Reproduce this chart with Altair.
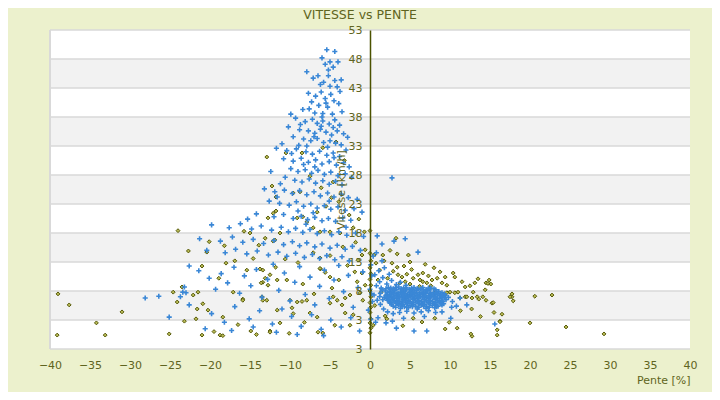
import altair as alt
import pandas as pd

# ---------------- data ----------------
blue_cone_top = [(-5.4,49.6),(-4.4,49.3),(-6.0,48.2),(-5.0,47.5),(-5.6,47.1),(-4.0,47.5),(-5.2,46.1),(-7.9,45.8),(-7.1,44.7),(-6.5,45.1),(-5.2,45.1),(-4.4,44.3),(-5.0,43.3),(-4.1,43.2),(-3.75,42.4),(-7.7,42.1),(-6.8,41.6),(-6.1,42.3),(-5.6,41.2),(-4.9,41.9),(-4.5,40.8),(-3.9,40.3),(-7.3,40.6),(-6.4,40.0),(-5.3,39.7),(-8.4,39.3),(-7.6,39.4),(-6.9,38.7),(-5.9,38.6),(-4.7,38.5),(-3.5,38.9),(-5.5,40.4),(-6.2,43.6),(-4.6,46.6),(-5.8,44.0),(-3.6,44.4)]
blue_cone_mid = [(-9.3,37.8),(-8.1,37.2),(-7.2,37.6),(-6.6,36.9),(-5.9,37.3),(-5.1,36.8),(-4.4,37.5),(-3.8,36.6),(-10.2,36.3),(-8.8,35.8),(-7.7,35.6),(-6.9,35.2),(-6.2,35.9),(-5.5,35.4),(-4.8,34.9),(-4.1,35.6),(-3.3,35.1),(-9.6,34.6),(-8.3,34.2),(-7.4,33.9),(-6.6,34.3),(-5.8,33.6),(-5.0,33.9),(-4.3,33.5),(-3.6,33.2),(-11.0,33.4),(-9.9,38.5),(-6.0,38.0),(-2.8,34.5),(-8.9,33.1),
                 (-11.7,32.6),(-10.4,32.2),(-9.2,32.5),(-8.0,32.0),(-7.2,31.6),(-6.3,32.1),(-5.4,31.4),(-4.6,31.8),(-3.8,31.2),(-3.0,32.3),(-10.8,30.8),(-9.6,30.4),(-8.6,30.9),(-7.7,30.2),(-6.8,30.6),(-6.0,29.9),(-5.1,30.3),(-4.2,29.7),(-3.3,30.1),(-2.6,29.4),(-9.9,29.1),(-9.0,28.6),(-8.1,28.9),(-7.3,28.3),(-6.5,28.8),(-5.7,28.1),(-4.9,28.5),(-4.0,27.9),(-3.1,28.2),(-2.3,27.6),(-10.6,27.6),(-9.4,27.1),(-8.5,26.8),(-7.6,27.3),(-6.8,26.6),(-5.9,27.0),(-5.1,26.4),(-4.3,26.9),(-3.5,26.3),(-12.4,28.6),(-11.2,26.5),(2.75,27.5),
                 (-8.7,36.7),(-7.0,34.6),(-5.3,32.8),(-6.9,29.4),(-8.3,29.8),(-4.5,31.0),(-7.9,33.0),(-6.1,36.4),(-4.6,36.2),(-9.8,31.7)]
blue_cone_low = [(-13.2,25.6),(-11.9,25.1),(-10.7,25.4),(-9.7,24.8),(-8.8,25.3),(-7.9,24.6),(-7.0,25.1),(-6.2,24.4),(-5.3,24.9),(-4.5,24.2),(-3.6,24.7),(-2.7,24.1),(-1.6,23.8),(-12.6,23.5),(-11.3,23.1),(-10.1,22.8),(-9.2,23.4),(-8.3,22.6),(-7.4,23.0),(-6.6,22.3),(-5.7,22.7),(-4.9,22.1),(-4.0,22.5),(-3.1,21.9),(-2.0,22.2),(-1.0,21.6),(-14.2,21.3),(-12.0,20.8),(-10.8,21.2),(-9.6,20.5),(-8.6,20.9),(-7.8,20.3),(-6.9,20.7),(-6.0,20.1),(-5.2,20.5),(-4.3,20.0),(-3.4,20.6),(-2.4,20.2),(-15.3,20.4),
                 (-19.8,19.4),(-17.6,18.9),(-16.2,19.6),(-14.8,18.7),(-13.6,19.2),(-12.3,18.5),(-11.1,19.0),(-10.2,18.2),(-9.3,18.8),(-8.4,18.1),(-7.5,18.6),(-6.6,17.9),(-5.7,18.4),(-4.8,17.7),(-3.9,18.2),(-2.9,17.6),(-1.8,18.0),(-0.8,17.4),(-21.3,17.0),(-18.7,16.6),(-17.2,17.3),(-15.9,16.4),(-14.6,16.9),(-13.3,16.2),(-12.0,16.7),(-10.8,16.0),(-9.7,16.5),(-8.8,15.8),(-7.9,16.3),(-6.9,15.6),(-6.0,16.1),(-5.0,15.4),(-4.1,15.9),(-3.1,15.2),(-2.2,15.7),(-1.2,15.0),(-22.6,12.3),(-20.4,15.0),(-18.1,14.6),(-16.8,15.2),(-15.4,14.4),(-14.1,14.9),(-12.7,14.2),(-11.5,14.7),(-10.4,14.0),(-9.3,14.5),(-8.2,13.8),(-7.2,14.3),(-6.3,13.6),(-5.4,14.1),(-4.4,13.4),(-3.5,13.9),(-2.6,13.2),
                 (0.9,17.5),(1.5,16.1),(3.0,16.6),(4.4,17.0),(6.0,14.7),(-9.0,21.8),(-7.1,21.5),(-5.1,23.5),(-11.6,24.2),(-8.0,19.5),(-3.0,19.0)]
blue_left_low = [(-28.1,6.8),(-26.4,7.1),(-25.1,3.5),(-23.7,7.0),(-23.2,8.7),(-23.4,7.8),(-23.0,7.7),(-22.6,5.6),(-21.4,11.5),(-20.1,10.2),(-19.3,8.3),(-18.6,11.0),(-17.8,9.4),(-17.0,12.1),(-16.3,7.6),(-15.7,10.6),(-14.9,8.9),(-14.2,11.7),(-13.5,6.9),(-12.8,10.0),(-12.1,12.6),(-11.4,8.1),(-10.7,11.1),(-10.0,6.3),(-9.4,9.5),(-8.8,12.2),(-8.1,7.4),(-7.5,10.4),(-6.9,5.6),(-6.3,8.8),(-5.7,11.6),(-5.1,6.7),(-4.5,9.9),(-3.9,12.4),(-3.3,7.9),(-2.7,10.7),(-2.1,5.2),(-1.5,8.6),(-0.9,11.3),(-19.8,4.1),(-18.2,2.6),(-16.9,5.3),(-15.1,3.2),(-13.8,4.6),(-12.2,2.3),(-11.0,4.9),(-9.8,3.6),(-8.6,1.9),(-7.3,3.9),(-6.1,1.4),(-4.9,3.0),(-3.6,1.8),(-2.4,3.4),(-1.3,1.1),(-20.6,1.5),(-17.3,1.2),(-14.6,1.8),(-11.7,0.9),(-9.1,0.5),(-5.8,0.3),
                 (0.1,12.5),(0.2,10.6),(0.0,8.3),(0.3,6.2),(-0.2,4.7),(0.1,3.1),(0.4,14.0),(0.2,7.5)]
blue_cluster = [(2.3,8.6),(2.9,8.4),(3.6,8.7),(4.2,8.5),(4.9,8.3),(5.5,8.6),(6.3,8.4),(7.0,8.2),(7.6,8.5),
                (2.6,8.2),(3.3,8.3),(4.0,8.2),(4.6,8.3),(5.3,8.2),(6.0,8.3),(6.7,8.2),(7.4,8.3),(8.2,8.2),
                (1.9,8.0),(2.5,7.9),(3.1,8.1),(3.8,7.8),(4.4,8.0),(5.1,7.9),(5.8,8.1),(6.5,7.8),(7.2,8.0),(7.9,7.7),(8.6,7.9),
                (2.2,7.7),(2.9,7.8),(3.5,7.7),(4.2,7.8),(4.9,7.7),(5.5,7.8),(6.2,7.7),(6.9,7.8),(7.6,7.7),(8.3,7.8),(9.0,7.7),
                (2.1,7.4),(2.7,7.6),(3.4,7.3),(4.0,7.5),(4.7,7.4),(5.3,7.6),(6.0,7.3),(6.7,7.5),(7.4,7.2),(8.1,7.4),(8.8,7.3),(9.3,7.5),
                (2.0,7.2),(2.6,7.3),(3.3,7.2),(3.9,7.3),(4.6,7.2),(5.2,7.3),(5.9,7.2),(6.6,7.3),(7.3,7.2),(8.0,7.3),(8.7,7.2),(9.4,7.2),
                (1.8,6.9),(2.4,7.1),(3.0,6.8),(3.7,7.0),(4.3,6.9),(5.0,7.1),(5.6,6.8),(6.3,7.0),(7.0,6.9),(7.7,7.1),(8.4,6.8),(9.0,6.9),
                (2.1,6.7),(2.7,6.8),(3.3,6.7),(4.0,6.8),(4.6,6.7),(5.3,6.8),(5.9,6.7),(6.6,6.8),(7.3,6.7),(8.0,6.8),(8.7,6.7),(9.3,6.8),
                (2.2,6.4),(2.8,6.6),(3.5,6.3),(4.1,6.5),(4.8,6.4),(5.4,6.6),(6.1,6.3),(6.8,6.5),(7.5,6.4),(8.2,6.6),(8.9,6.3),(9.5,6.5),
                (2.4,6.2),(3.0,6.3),(3.7,6.2),(4.4,6.3),(5.0,6.2),(5.7,6.3),(6.4,6.2),(7.1,6.3),(7.8,6.2),(8.5,6.3),(9.1,6.2),
                (2.5,5.9),(3.2,6.1),(3.9,5.8),(4.5,6.0),(5.2,5.9),(5.9,6.1),(6.6,5.8),(7.3,6.0),(8.0,5.9),(8.7,6.1),(9.2,5.8),
                (2.7,5.7),(3.4,5.8),(4.1,5.7),(4.7,5.8),(5.4,5.7),(6.1,5.8),(6.8,5.7),(7.5,5.8),(8.2,5.7),(8.9,5.8),
                (2.9,5.4),(3.6,5.6),(4.3,5.3),(5.0,5.5),(5.7,5.4),(6.4,5.6),(7.1,5.3),(7.8,5.5),(8.5,5.4),
                (3.8,5.0),(4.8,5.1),(5.9,4.9),(7.0,5.0),(8.1,5.1),
                (2.0,8.4),(2.6,8.5),(3.2,8.6),(3.9,8.4),(4.5,8.6),(5.2,8.5),(5.9,8.4),(6.6,8.6),(7.3,8.5),(8.0,8.4),
                (3.0,7.5),(3.6,7.4),(4.3,7.6),(5.0,7.3),(5.6,7.5),(6.3,7.4),(7.0,7.6),(7.7,7.4),(8.4,7.5),(9.1,7.4),
                (2.3,6.9),(2.9,7.0),(3.5,6.9),(4.2,7.1),(4.8,6.9),(5.5,7.0),(6.1,6.9),(6.8,7.1),(7.5,6.9),(8.2,7.0),(8.9,7.1),
                (2.6,6.0),(3.3,5.9),(4.0,6.1),(4.7,5.9),(5.4,6.0),(6.1,5.9),(6.8,6.1),(7.5,5.9),(8.2,6.0),(8.9,5.9),
                (3.2,5.2),(4.0,5.4),(4.6,5.2),(5.3,5.3),(6.1,5.2),(6.7,5.4),(7.4,5.2),(8.3,5.3)]
blue_cluster_edge = [(9.8,6.9),(10.3,6.2),(10.8,5.4),(11.25,6.8),(12.1,5.6),(10.2,5.2),(9.0,5.6),(9.0,4.4),(10.1,3.3),
                     (1.2,9.6),(1.6,10.3),(2.1,9.2),(2.7,9.8),(3.3,9.1),(0.8,8.9),(1.4,8.5),(0.6,10.8),(1.1,11.5),(2.4,10.9),(3.8,9.5),(4.5,9.0),(1.8,12.0),(0.5,7.3),(0.9,6.4),(1.3,5.7),(1.7,4.9),(2.2,4.4),(2.9,4.1),(3.7,4.3),(4.6,4.5),(5.5,4.2),(6.4,4.4),(7.3,4.6),(8.2,4.3),(1.0,3.4),(0.7,2.6),(2.8,2.8),(4.2,3.3),(6.8,3.6),(1.5,13.2),(0.8,14.6),(3.3,1.6),(5.5,1.1),(7.1,1.1),(15.6,2.3),(2.0,2.5),
                     (1.3,7.6),(1.5,8.2),(1.6,6.5),(1.2,7.0)]

olive_left = [(-22.7,14.9),(-39.0,7.5),(-37.6,5.6),(-39.1,0.4),(-34.2,2.5),(-33.1,0.4),(-31.0,4.4),(-25.1,0.6),(-24.6,7.8),(-24.1,6.1),(-23.5,8.7),(-23.2,2.8),
              (-20.4,14.7),(-18.0,12.8),(-21.0,12.3),(-22.1,7.3),(-21.5,7.8),(-20.9,5.8),(-21.6,4.9),(-20.25,4.7),(-21.75,3.2),(-18.4,3.5),(-15.9,6.6),(-17.1,7.8),(-18.9,10.2),(-15.4,11.6),(-13.75,11.8),(-14.9,1.1),(-18.75,0.4),(-18.4,0.3),(-12.5,1.1),(-13.9,15.9),(-11.9,16.8),(-11.6,4.7),(-13.5,7.0),(-12.9,6.4),(-13.4,9.5),(-12.5,10.8),(-13.6,9.4),
              (-16.5,2.2),(-19.5,1.0),(-21.0,0.4),(-14.2,0.5),(-10.1,0.7),(-8.2,2.6),(-9.6,4.1),(-7.0,7.5),(-8.4,9.2),(-6.2,11.8),(-9.0,12.9),(-10.6,13.5),(-11.8,12.1),(-14.6,13.6),(-16.9,13.2),(-18.2,15.8),(-20.1,16.5),(-24.0,18.4)]
olive_mid = [(-12.25,26.1),(-11.75,24.2),(-11.75,21.8),(-12.75,20.6),(-15.75,18.3),(-15.0,18.0),(-13.1,17.1),(-12.1,16.6),(-11.25,18.0),(-9.6,24.9),(-8.75,25.1),(-9.1,20.6),(-8.4,20.8),(-7.9,19.9),(-7.1,18.9),(-6.25,18.2),(-5.0,18.2),(-3.75,18.0),(-7.1,14.6),(-6.25,13.7),(-5.0,14.1),(-6.25,11.9),(-5.6,11.2),(-5.0,10.4),(-3.9,9.9),(-4.75,8.5),(-4.1,6.4),(-5.0,5.9),(-3.1,6.8),(-10.0,6.4),(-9.1,6.1),(-8.5,6.2),(-7.9,6.4),(-9.75,5.1),(-7.5,4.2),(-6.6,3.5),(-11.25,2.5),(-12.5,0.9),(-6.5,0.9),(-5.9,0.75),(-13.4,11.6),(-13.1,10.2),(-12.75,9.0),(-11.6,9.9),(-10.4,9.9),(-13.4,6.4),(-15.9,6.4),
             (-12.9,31.1),(-10.5,31.8),(-8.5,31.8),(-5.9,32.7),(-4.25,33.7),(-7.5,27.8),(-6.1,25.8),(-4.6,26.8),(-3.2,30.5),(-4.8,24.1),(-5.5,22.6),(-3.9,23.4),(-6.6,21.6),(-2.6,21.1),(-1.4,20.4),(-2.1,18.9),(-0.7,18.2),(-12.1,21.4),
             (-0.6,15.1),(-1.0,14.2),(-1.5,13.3),(-1.9,11.3),(-1.0,11.1),(-1.6,9.6),(-0.6,9.0),(-2.5,7.3),(-1.25,7.7),(-0.9,6.4),(-3.1,4.2),(-2.1,3.9),(-2.5,2.1),(-4.4,2.1),(-3.5,5.6),(-4.6,7.0),(-2.8,12.4),(-3.4,15.6),(-1.8,16.4)]
olive_axis = [(0.0,14.5),(0.1,13.2),(0.0,12.0),(0.1,11.0),(0.0,10.0),(0.1,9.0),(0.0,8.0),(0.1,7.0),(0.0,6.0),(0.1,5.2),(0.0,4.3),(0.1,3.2),(0.0,2.5),(0.1,1.6),(0.0,0.8),(0.0,18.4)]
olive_right = [(0.5,14.2),(0.75,12.8),(1.6,14.2),(1.75,13.2),(2.75,12.8),(3.4,14.4),(4.25,12.3),(5.0,13.0),(3.5,10.8),(4.0,10.4),(4.6,10.9),(5.4,10.2),(6.0,10.8),(6.6,11.1),(6.25,9.9),(7.1,9.4),(7.75,9.9),(8.4,10.2),(9.0,9.4),(9.6,9.0),(10.4,11.1),(10.6,10.4),(10.0,7.8),(11.0,7.8),(11.9,8.7),(12.5,8.9),(12.9,7.8),(13.4,7.0),(12.75,6.8),(11.9,7.0),(11.25,6.8),(14.5,9.4),(14.75,9.3),(14.4,8.2),(14.5,6.4),(15.25,5.9),(15.4,6.0),(17.75,7.0),(17.9,6.3),(16.5,4.0),(16.25,2.8),(15.9,0.4),(12.75,0.2),(10.9,1.6),(9.4,1.45),(8.1,3.3),(6.5,2.65),(5.4,3.3),(4.1,2.0),(2.1,3.2),(1.9,3.7),(0.4,2.1),(3.25,17.1),(3.4,12.1),(3.75,9.4),(4.4,9.6),(6.6,9.6),(8.75,11.3),(9.4,10.4),(8.1,8.2),(9.6,7.7),(10.6,7.7),(12.1,7.0),(13.6,6.6),(13.1,9.4),(14.1,7.0),
               (20.6,7.1),(22.75,7.3),(24.5,1.8),(29.25,0.6),(20.0,2.5),(16.25,2.7),(15.9,1.3),(17.5,7.0),(12.6,0.6),(17.75,7.5),(15.5,4.3),(14.9,9.9),(15.1,9.2),
               (1.2,11.6),(2.2,10.2),(2.9,11.4),(5.2,11.7),(7.3,10.6),(8.0,12.0),(11.5,9.6),(13.5,10.1),(7.6,8.9),(6.2,8.8),(5.0,9.2),(1.0,9.9),(0.6,5.5),(1.4,7.8),(2.5,15.0),(4.8,14.2),(6.9,12.6),(11.3,4.6),(12.7,4.9),(9.9,2.6),(13.8,3.6)]

# ---------------- build tables ----------------
rows = []
for pts in [blue_cone_top, blue_cone_mid, blue_cone_low, blue_left_low, blue_cluster, blue_cluster_edge]:
    rows += [{"pente": p, "vitesse": v} for p, v in pts]
blue_df = pd.DataFrame(rows)
rows = []
for pts in [olive_left, olive_mid, olive_axis, olive_right]:
    rows += [{"pente": p, "vitesse": v} for p, v in pts]
olive_df = pd.DataFrame(rows)

band_lo = [43, 33, 23, 13, 3]
band_hi = [48, 38, 28, 18, 8]
bands_df = pd.DataFrame({"lo": band_lo, "hi": band_hi})

x_ticks = list(range(-40, 41, 5))
y_ticks = list(range(-2, 54, 5))
grid_df = pd.DataFrame({"v": y_ticks})

TXT = "#5f6420"
FONT = "DejaVu Sans"

xscale = alt.Scale(domain=[-40, 40], nice=False, zero=False)
yscale = alt.Scale(domain=[-2, 53], nice=False, zero=False)

xaxis = alt.Axis(values=x_ticks, grid=False, ticks=False, domain=False, labelColor=TXT,
                 labelFont=FONT, labelFontSize=11, labelPadding=10, labelFlush=False,
                 title="Pente [%]", titleColor=TXT, titleFont=FONT, titleFontSize=11,
                 titleFontWeight="normal", titleAnchor="end", titlePadding=4)
yaxis = alt.Axis(values=y_ticks, grid=False, ticks=False, tickSize=0,
                 domain=True, domainColor="#4b5200", domainWidth=1.5, offset=-320,
                 labelColor=TXT, labelFont=FONT, labelFontSize=11, labelPadding=8,
                 labelAlign="right", labelFlush=False,
                 labelExpr="datum.value < 0 ? '3' : datum.label",
                 title="Vitesse [km/h]", titleColor=TXT, titleFont=FONT, titleFontSize=11,
                 titleFontWeight="normal", titlePadding=2, zindex=1)

bands = alt.Chart(bands_df).mark_rect(color="#f2f2f2").encode(
    x=alt.value(0), x2=alt.value(640),
    y=alt.Y("lo:Q", scale=yscale, axis=yaxis), y2="hi:Q")

grid = alt.Chart(grid_df).mark_rule(color="#d9d9d9", strokeWidth=1.5).encode(
    x=alt.value(0), x2=alt.value(640), y=alt.Y("v:Q", scale=yscale, axis=yaxis))

border = alt.Chart(bands_df).mark_rule(color="#d9d9d9", strokeWidth=1.5).encode(
    x=alt.value(0), y=alt.value(0), y2=alt.value(319))

olive = alt.Chart(olive_df).mark_point(
    shape="diamond", filled=True, fill="#b9ba55", stroke="#555907", strokeWidth=1, size=15, opacity=1
).encode(x=alt.X("pente:Q", scale=xscale, axis=xaxis),
         y=alt.Y("vitesse:Q", scale=yscale, axis=yaxis))

blue = alt.Chart(blue_df).mark_point(
    shape="M-1,0H1M0,-1V1", filled=False, stroke="#3a87d6", strokeWidth=1.6, size=26, opacity=1
).encode(x=alt.X("pente:Q", scale=xscale, axis=xaxis),
         y=alt.Y("vitesse:Q", scale=yscale, axis=yaxis))

chart = alt.layer(bands, grid, border, olive, blue).properties(
    width=640, height=319,
    title=alt.Title("VITESSE vs PENTE", color=TXT, font=FONT, fontSize=12.5, fontWeight="normal",
                    anchor="middle", dx=-10, offset=3),
    background="#ecf1cd",
    padding={"left": 42, "top": 22, "right": 22, "bottom": 43},
    autosize=alt.AutoSizeParams(type="none"),
).configure_view(stroke=None, fill="white")

chart.save("out.html", embed_options={"renderer": "svg", "actions": False})
